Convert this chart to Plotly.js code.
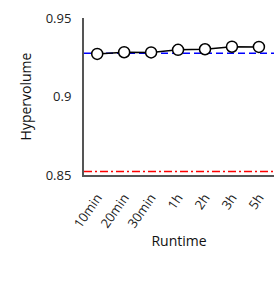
<!DOCTYPE html>
<html>
<head>
<meta charset="utf-8">
<script src="https://cdn.plot.ly/plotly-3.0.1.min.js"></script>
<style>html,body{margin:0;padding:0;background:#fff;}#chart{width:274px;height:285px;}</style>
</head>
<body>
<div id="chart"></div>
<script>
var categories = ["10min", "20min", "30min", "1h", "2h", "3h", "5h"];
var hypervolume = [0.9271, 0.9282, 0.9281, 0.9297, 0.9301, 0.9317, 0.9316];
var blueReference = 0.9275;
var redReference = 0.8522;
var yTicks = [0.85, 0.9, 0.95];
var yTickLabels = ["0.85", "0.9", "0.95"];

var trace = {
  x: categories,
  y: hypervolume,
  type: "scatter",
  mode: "lines+markers",
  line: {color: "#000", width: 1.5},
  marker: {size: 11, color: "#fff", line: {color: "#000", width: 1.5}},
  showlegend: false
};

var layout = {
  width: 274, height: 285,
  margin: {l: 84, r: 0, t: 18, b: 110},
  paper_bgcolor: "#fff", plot_bgcolor: "#fff",
  font: {family: "Open Sans, sans-serif", size: 13, color: "#222"},
  xaxis: {
    type: "category",
    range: [-0.49, 6.56],
    showgrid: false, zeroline: false,
    showline: true, linecolor: "#555", linewidth: 2,
    ticks: "", tickangle: -55,
    ticklabelstandoff: 8,
    tickfont: {size: 13, color: "#222"},
    title: {text: "Runtime", font: {size: 14, color: "#111"}, standoff: 2}
  },
  yaxis: {
    range: [0.85, 0.95],
    showgrid: false, zeroline: false,
    showline: true, linecolor: "#555", linewidth: 2,
    ticks: "", tickvals: yTicks, ticktext: yTickLabels,
    tickfont: {size: 13, color: "#222"},
    ticklabelstandoff: 8,
    title: {text: "Hypervolume", font: {size: 14, color: "#111"}, standoff: 11}
  },
  shapes: [
    {type: "line", xref: "paper", x0: 0, x1: 1, yref: "y", y0: blueReference, y1: blueReference,
     line: {color: "#0000ff", width: 1.5, dash: "7px,4px"}, layer: "below"},
    {type: "line", xref: "paper", x0: 0, x1: 1, yref: "y", y0: redReference, y1: redReference,
     line: {color: "#ff0000", width: 1.5, dash: "8px,3px,2px,3px"}, layer: "below"}
  ]
};

Plotly.newPlot("chart", [trace], layout, {displayModeBar: false, staticPlot: true});
</script>
</body>
</html>
